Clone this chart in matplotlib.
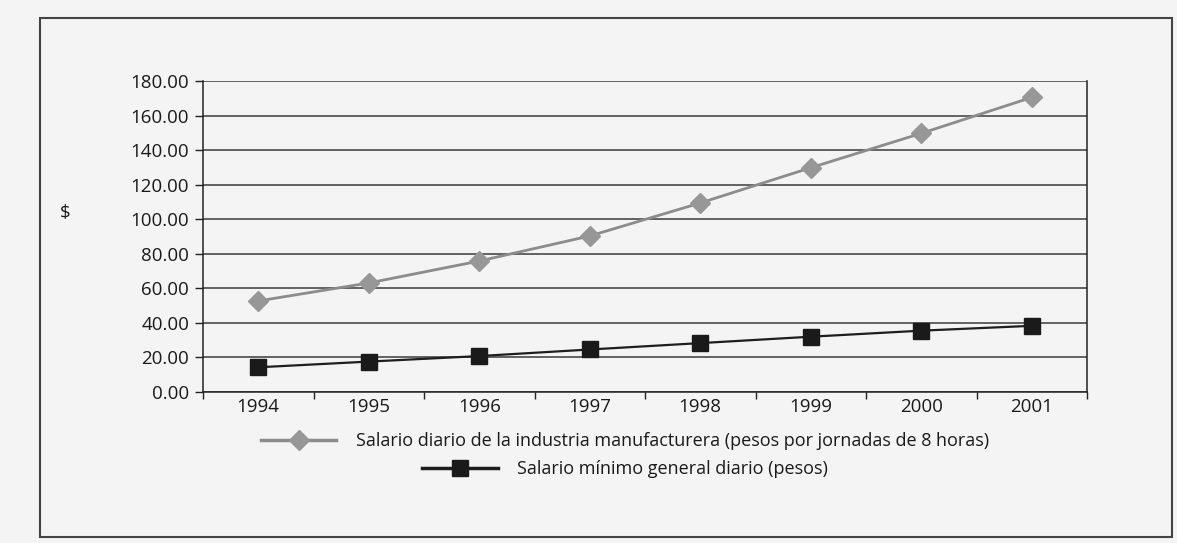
import matplotlib

matplotlib.use("Agg")
import matplotlib.pyplot as plt
from matplotlib.patches import Rectangle
from matplotlib.lines import Line2D

years = ["1994", "1995", "1996", "1997", "1998", "1999", "2000", "2001"]
manufactura = [52.7, 63.1, 75.8, 90.3, 109.4, 129.8, 149.7, 170.5]
minimo = [14.3, 17.6, 20.8, 24.6, 28.3, 32.0, 35.5, 38.3]
yticks = [0, 20, 40, 60, 80, 100, 120, 140, 160, 180]

label_manuf = "Salario diario de la industria manufacturera (pesos por jornadas de 8 horas)"
label_min = "Salario mínimo general diario (pesos)"

BG = "#f4f4f4"
plt.rcParams["font.family"] = ["Open Sans", "DejaVu Sans"]

fig = plt.figure(figsize=(11.77, 5.43), dpi=100, facecolor=BG)
fig.patches.append(Rectangle((40 / 1177, 1 - 537 / 543), 1132 / 1177, 519 / 543,
                             transform=fig.transFigure, fill=False,
                             edgecolor="#444444", linewidth=1.5))

ax = fig.add_axes([203 / 1177, 1 - 392 / 543, 884 / 1177, 311 / 543])
ax.set_facecolor(BG)

x = list(range(len(years)))
ax.plot(x, manufactura, color="#8c8c8c", linewidth=2, marker="D", markersize=10.5,
        markerfacecolor="#979797", markeredgecolor="#979797", zorder=3)
ax.plot(x, minimo, color="#1e1e1e", linewidth=1.6, marker="s", markersize=11,
        markerfacecolor="#1a1a1a", markeredgecolor="#1a1a1a", zorder=3)

ax.set_xlim(-0.5, len(years) - 0.5)
ax.set_ylim(0, 180)
ax.set_yticks(yticks)
ax.set_yticklabels([f"{v:.2f}" for v in yticks], fontsize=13.5, color="#1a1a1a")
ax.set_xticks([i + 0.5 for i in range(-1, len(years))])
ax.set_xticklabels([])
ax.set_xticks(x, minor=True)
ax.set_xticklabels(years, minor=True, fontsize=13.5, color="#1a1a1a")
ax.tick_params(axis="x", which="minor", length=0, pad=4)
ax.tick_params(axis="x", which="major", length=5, width=1, color="#222222")
ax.tick_params(axis="y", length=6, width=1, pad=4, color="#222222")

ax.grid(axis="y", color="#3a3a3a", linewidth=1.1)
ax.set_axisbelow(True)
for side in ["left", "right", "bottom"]:
    ax.spines[side].set_color("#222222")
    ax.spines[side].set_linewidth(1.1)
ax.spines["top"].set_visible(False)

ax.set_ylabel("$", rotation=0, fontsize=13.5, color="#1a1a1a")
ax.yaxis.set_label_coords(-0.156, 0.547)

h1 = Line2D([], [], color="#8c8c8c", linewidth=2.5, marker="D", markersize=10.5,
            markerfacecolor="#979797", markeredgecolor="#979797")
h2 = Line2D([], [], color="#1e1e1e", linewidth=2.5, marker="s", markersize=11,
            markerfacecolor="#1a1a1a", markeredgecolor="#1a1a1a")
for h, lab, yy in [(h1, label_manuf, 441), (h2, label_min, 469)]:
    fig.legend([h], [lab], loc="center", bbox_to_anchor=(625 / 1177, 1 - yy / 543),
               frameon=False, fontsize=13, handlelength=4.2, handletextpad=1.1,
               borderpad=0, labelcolor="#1a1a1a")

fig.savefig("out.png", dpi=100, facecolor=BG)
